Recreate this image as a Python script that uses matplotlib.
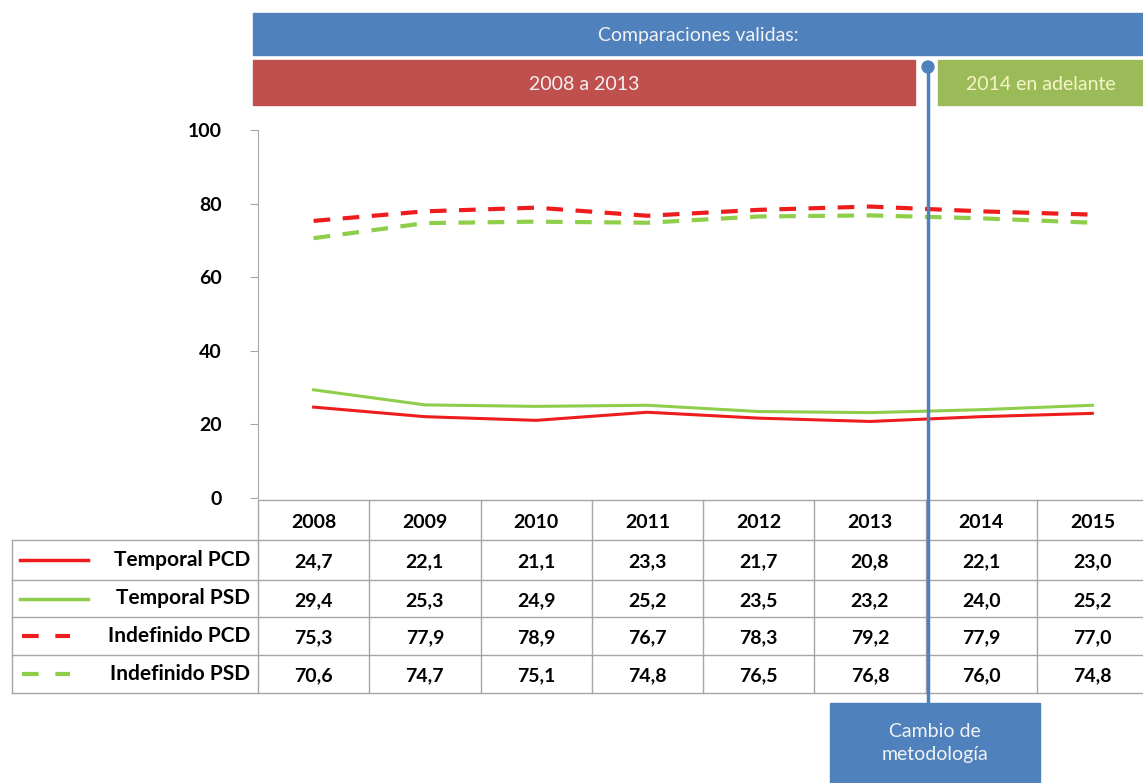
import matplotlib.pyplot as plt
from matplotlib.patches import Rectangle, Circle

years = ["2008", "2009", "2010", "2011", "2012", "2013", "2014", "2015"]
temporal_pcd = [24.7, 22.1, 21.1, 23.3, 21.7, 20.8, 22.1, 23.0]
temporal_psd = [29.4, 25.3, 24.9, 25.2, 23.5, 23.2, 24.0, 25.2]
indef_pcd = [75.3, 77.9, 78.9, 76.7, 78.3, 79.2, 77.9, 77.0]
indef_psd = [70.6, 74.7, 75.1, 74.8, 76.5, 76.8, 76.0, 74.8]
series_names = ["Temporal PCD", "Temporal PSD", "Indefinido PCD", "Indefinido PSD"]

RED = "#ee1c1c"
GREEN = "#8fce4a"
BLUE = "#4f81bd"
BANNER_RED = "#c0504d"
BANNER_GREEN = "#9bbb59"
GRID = "#a6a6a6"

plt.rcParams["font.family"] = ["Lato", "DejaVu Sans"]

W, H = 1143, 783
fig = plt.figure(figsize=(W / 100, H / 100), dpi=100)

# chart axes in pixel layout
x0, x1, y_top, y_bot = 258, 1148, 130, 498
ax = fig.add_axes([x0 / W, 1 - y_bot / H, (x1 - x0) / W, (y_bot - y_top) / H])
xs = list(range(len(years)))
styles = [(temporal_pcd, RED, "-"), (temporal_psd, GREEN, "-"),
          (indef_pcd, RED, (0, (4, 3))), (indef_psd, GREEN, (0, (4, 3)))]
for vals, c, ls in styles:
    ax.plot(xs, vals, color=c, linestyle=ls, linewidth=2.2 if ls == "-" else 3)
ax.set_xlim(-0.5, len(years) - 0.5)
ax.set_ylim(0, 100)
ax.set_yticks([0, 20, 40, 60, 80, 100])
ax.tick_params(axis="y", length=6, color=GRID, labelsize=14, pad=20)
for t in ax.get_yticklabels():
    t.set_fontweight("bold")
ax.set_xticks([])
for s in ["top", "right", "bottom"]:
    ax.spines[s].set_visible(False)
ax.spines["left"].set_color(GRID)

# overlay in pixel coords
ov = fig.add_axes([0, 0, 1, 1])
ov.set_xlim(0, W)
ov.set_ylim(H, 0)
ov.axis("off")

col_w = (x1 - x0) / len(years)
row_y = [500, 540, 580, 617, 655, 693]

# banners
ov.add_patch(Rectangle((253, 13), W - 253, 42, color=BLUE))
ov.text((253 + W) / 2, 36, "Comparaciones validas:", color="#f2f2f2", fontsize=14,
        ha="center", va="center")
ov.add_patch(Rectangle((253, 60), 915 - 253, 45, color=BANNER_RED))
ov.text((253 + 915) / 2, 84, "2008 a 2013", color="#f2f2f2", fontsize=14,
        ha="center", va="center")
ov.add_patch(Rectangle((938, 60), W - 938, 45, color=BANNER_GREEN))
ov.text((938 + W) / 2, 84, "2014 en adelante", color="#f5f5c8", fontsize=14,
        ha="center", va="center")

# table grid
ov.plot([x0, W], [row_y[0], row_y[0]], color=GRID, lw=1)
for y in row_y[1:]:
    ov.plot([12, W], [y, y], color=GRID, lw=1)
ov.plot([12, 12], [row_y[1], row_y[-1]], color=GRID, lw=1)
for i in range(len(years) + 1):
    xe = x0 + i * col_w
    if xe <= W:
        ov.plot([xe, xe], [row_y[0], row_y[-1]], color=GRID, lw=1)

for i, yr in enumerate(years):
    cx = x0 + (i + 0.5) * col_w
    ov.text(cx, (row_y[0] + row_y[1]) / 2 + 2, yr, ha="center", va="center",
            fontsize=14, fontweight="bold")
    for r, (vals, _, _) in enumerate(styles):
        yc = (row_y[r + 1] + row_y[r + 2]) / 2 + 2
        ov.text(cx, yc, f"{vals[i]:.1f}".replace(".", ","), ha="center",
                va="center", fontsize=14, fontweight="bold")

for r, ((vals, c, ls), name) in enumerate(zip(styles, series_names)):
    yc = (row_y[r + 1] + row_y[r + 2]) / 2
    if ls == "-":
        ov.plot([20, 88], [yc, yc], color=c, lw=2.5)
    else:
        ov.plot([22, 70], [yc, yc], color=c, lw=3, linestyle=(0, (4, 4)))
    ov.text(250, yc, name, ha="right", va="center", fontsize=15, fontweight="bold")

# methodology change marker
ov.plot([928, 928], [67, 703], color=BLUE, lw=2.5)
ov.add_patch(Circle((928, 67), 6, color=BLUE))
ov.add_patch(Rectangle((830, 703), 210, 80, color=BLUE))
ov.text(935, 743, "Cambio de\nmetodología", color="#f2f2f2", fontsize=14,
        ha="center", va="center", linespacing=1.4)

fig.savefig("out.png", dpi=100)
